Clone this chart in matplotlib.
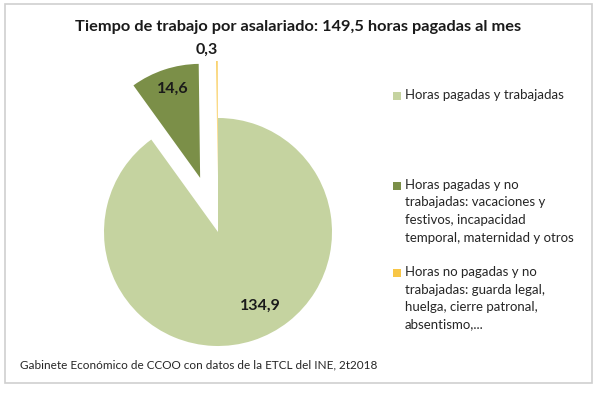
import matplotlib
matplotlib.use("Agg")
import matplotlib.pyplot as plt
from matplotlib.patches import Rectangle

plt.rcParams['font.family'] = ['Lato', 'DejaVu Sans']

title = "Tiempo de trabajo por asalariado: 149,5 horas pagadas al mes"
categories = [
    "Horas pagadas y trabajadas",
    "Horas pagadas y no\ntrabajadas: vacaciones y\nfestivos, incapacidad\ntemporal, maternidad y otros",
    "Horas no pagadas y no\ntrabajadas: guarda legal,\nhuelga, cierre patronal,\nabsentismo,...",
]
values = [134.9, 14.6, 0.3]
value_labels = ["134,9", "14,6", "0,3"]
colors = ["#C5D3A0", "#7B8F48", "#F8C646"]
explode = [0, 0.5, 0.5]
source = "Gabinete Económico de CCOO con datos de la ETCL del INE, 2t2018"

W, H = 600, 394
fig = plt.figure(figsize=(6, 3.94), dpi=100)

# border
fig.patches.append(Rectangle((5 / W, (H - 383) / H), 587 / W, 379 / H,
                             transform=fig.transFigure, fill=False,
                             edgecolor="#cfcfcf", linewidth=1.2))

R = 114.0
cx, cy = 218.0, 232.0
xl, xr, yt, yb = 1.3, 1.3, 1.9, 1.1
ax = fig.add_axes([(cx - xl * R) / W, (H - (cy + yb * R)) / H,
                   (xl + xr) * R / W, (yt + yb) * R / H])
wedges, _ = ax.pie(values, colors=colors, explode=explode, startangle=90,
                   counterclock=False, wedgeprops=dict(linewidth=0))
ax.set_xlim(-xl, xr)
ax.set_ylim(-yb, yt)
ax.set_aspect('equal')
ax.axis('off')

label_pos = [(0.37, -0.65), (-0.40, 1.26), (-0.10, 1.60)]
for lbl, (x, y) in zip(value_labels, label_pos):
    ax.text(x, y, lbl, ha='center', va='center', fontsize=11.5,
            fontweight='bold', color='#1a1a1a')

fig.text(298 / W, 1 - 27 / H, title, ha='center', va='center',
         fontsize=11.8, fontweight='bold', color='#1a1a1a')

# legend
tops = [89, 179, 266]
for w, lab, t in zip(wedges, categories, tops):
    fig.patches.append(Rectangle((393 / W, 1 - (t + 11) / H), 8 / W, 8 / H,
                                 transform=fig.transFigure,
                                 facecolor=w.get_facecolor(), edgecolor='none'))
    fig.text(405 / W, 1 - t / H, lab, ha='left', va='top', fontsize=9.5,
             color='#262626', linespacing=1.55)

fig.text(20 / W, 1 - 365 / H, source, ha='left', va='center', fontsize=8.5,
         color='#262626')

fig.savefig("out.png", dpi=100)
